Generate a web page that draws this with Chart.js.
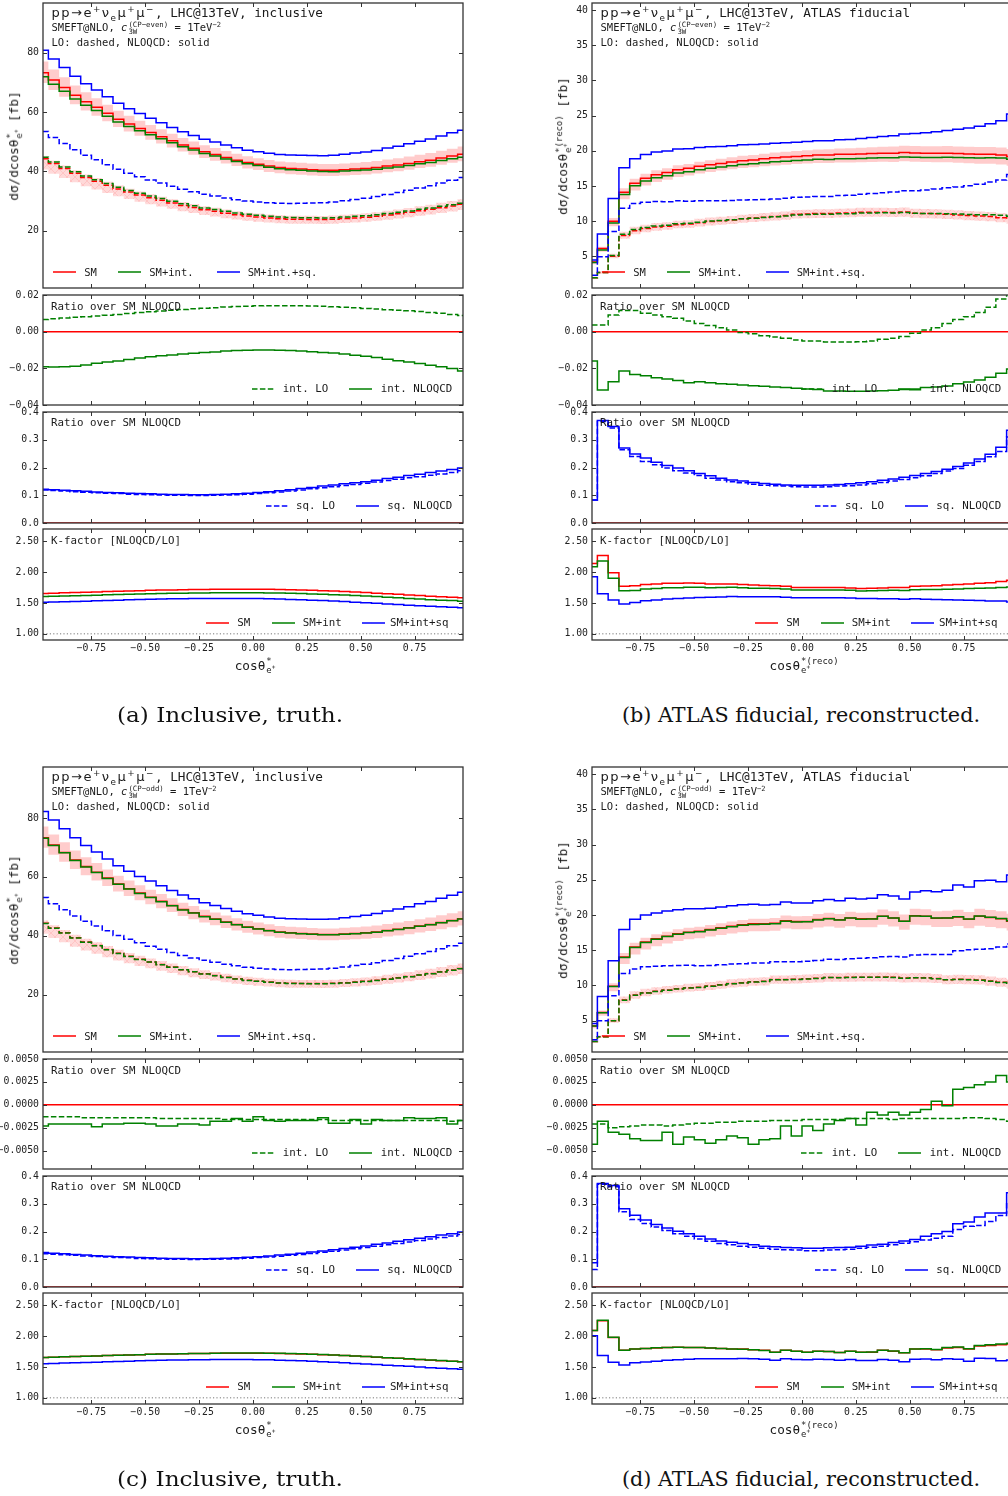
<!DOCTYPE html>
<html>
<head>
<meta charset="utf-8">
<title>cos theta* distributions, SMEFT@NLO</title>
<script src="https://cdn.jsdelivr.net/npm/chart.js@4.4.1/dist/chart.umd.min.js"></script>
<style>
  html, body { margin: 0; padding: 0; background: #fff; overflow: hidden; }
  #page { position: relative; width: 1008px; height: 1496px; overflow: hidden; background: #fff; }
  #page canvas { position: absolute; }
  .t { position: absolute; white-space: nowrap; font-family: "DejaVu Sans Mono", monospace; color: #1a1a1a; line-height: 1; transform: translateY(-50%); }
  .t sup, .t sub { font-size: 68%; line-height: 0; }
  .m { font-family: "DejaVu Sans", sans-serif; font-size: 13px; letter-spacing: 1.5px; }
  .ss { display: inline-flex; flex-direction: column; vertical-align: middle; font-size: 70%; line-height: 1.0; margin-left: 1px; }
  .ytitle { transform: translate(-50%, -50%) rotate(-90deg); }
  .xtitle { transform: translate(-50%, -50%); }
  .cap { position: absolute; white-space: nowrap; font-family: "DejaVu Serif", serif; font-size: 20px; color: #111; line-height: 1; }
  .leg { position: absolute; }
</style>
</head>
<body>
<div id="page"></div>
<script>
// 40 bins of width 0.05 in cos(theta*), plotted at the bin centres
const binCenters = [-0.975, -0.925, -0.875, -0.825, -0.775, -0.725, -0.675, -0.625, -0.575, -0.525,
  -0.475, -0.425, -0.375, -0.325, -0.275, -0.225, -0.175, -0.125, -0.075, -0.025,
  0.025, 0.075, 0.125, 0.175, 0.225, 0.275, 0.325, 0.375, 0.425, 0.475,
  0.525, 0.575, 0.625, 0.675, 0.725, 0.775, 0.825, 0.875, 0.925, 0.975];

// ---- inclusive (truth): SM NLOQCD [fb] and K-factor
const smNloIncl = [73.3, 70.8, 68.3, 65.7, 63.5, 61.6, 59.6, 57.6, 56.0, 54.5,
  53.1, 51.7, 50.3, 48.9, 47.8, 46.6, 45.7, 44.7, 43.8, 43.0,
  42.4, 41.8, 41.3, 41.0, 40.8, 40.6, 40.4, 40.4, 40.6, 40.8,
  41.0, 41.3, 41.8, 42.2, 42.7, 43.3, 43.8, 44.5, 45.2, 45.8];
const kSmIncl = [1.655, 1.660, 1.665, 1.670, 1.675, 1.680, 1.685, 1.690, 1.695, 1.700,
  1.705, 1.709, 1.712, 1.715, 1.718, 1.720, 1.722, 1.724, 1.725, 1.725,
  1.724, 1.722, 1.720, 1.716, 1.712, 1.706, 1.700, 1.693, 1.686, 1.678,
  1.670, 1.660, 1.650, 1.640, 1.630, 1.620, 1.610, 1.602, 1.594, 1.585];
// scale-uncertainty bands, relative
const nloUpIncl = [0.052, 0.051, 0.051, 0.050, 0.050, 0.050, 0.049, 0.049, 0.049, 0.048,
  0.048, 0.048, 0.048, 0.048, 0.048, 0.048, 0.048, 0.049, 0.049, 0.049,
  0.049, 0.050, 0.050, 0.050, 0.051, 0.051, 0.051, 0.052, 0.052, 0.052,
  0.053, 0.053, 0.053, 0.054, 0.054, 0.054, 0.055, 0.055, 0.055, 0.056];
const nloDnIncl = [0.047, 0.047, 0.046, 0.046, 0.046, 0.046, 0.045, 0.045, 0.045, 0.045,
  0.045, 0.045, 0.045, 0.045, 0.045, 0.045, 0.046, 0.046, 0.046, 0.046,
  0.046, 0.047, 0.047, 0.047, 0.047, 0.048, 0.048, 0.048, 0.048, 0.049,
  0.049, 0.049, 0.049, 0.050, 0.050, 0.050, 0.050, 0.051, 0.051, 0.051];
const loUpIncl = [0.020, 0.022, 0.024, 0.026, 0.028, 0.030, 0.032, 0.034, 0.035, 0.037,
  0.038, 0.040, 0.041, 0.042, 0.043, 0.044, 0.045, 0.046, 0.046, 0.047,
  0.048, 0.048, 0.049, 0.050, 0.050, 0.051, 0.052, 0.052, 0.053, 0.054,
  0.054, 0.055, 0.056, 0.056, 0.057, 0.058, 0.058, 0.059, 0.060, 0.060];
const loDnIncl = [0.082, 0.080, 0.079, 0.077, 0.076, 0.075, 0.074, 0.073, 0.072, 0.071,
  0.070, 0.069, 0.068, 0.068, 0.067, 0.066, 0.066, 0.065, 0.065, 0.064,
  0.064, 0.063, 0.063, 0.063, 0.062, 0.062, 0.062, 0.062, 0.062, 0.062,
  0.062, 0.062, 0.063, 0.063, 0.063, 0.064, 0.064, 0.065, 0.065, 0.066];

// ---- ATLAS fiducial (reco): SM NLOQCD [fb] and K-factor, CP-even and CP-odd runs
const smNloFidB = [4.19, 6.10, 10.0, 14.1, 15.4, 16.1, 16.6, 16.9, 17.3, 17.5,
  17.8, 18.0, 18.2, 18.4, 18.6, 18.7, 18.85, 19.0, 19.1, 19.2,
  19.3, 19.4, 19.4, 19.5, 19.5, 19.55, 19.6, 19.65, 19.65, 19.75,
  19.7, 19.65, 19.65, 19.65, 19.6, 19.55, 19.5, 19.5, 19.4, 19.2];
const kSmFidB = [2.14, 2.27, 1.99, 1.77, 1.78, 1.80, 1.81, 1.82, 1.82, 1.825,
  1.82, 1.81, 1.81, 1.81, 1.80, 1.79, 1.785, 1.78, 1.77, 1.75,
  1.75, 1.75, 1.75, 1.75, 1.745, 1.735, 1.74, 1.745, 1.75, 1.75,
  1.77, 1.775, 1.78, 1.79, 1.80, 1.81, 1.82, 1.83, 1.85, 1.87];
const smNloFidD = [4.26, 6.15, 9.9, 14.03, 15.45, 16.16, 16.63, 17.0, 17.34, 17.57,
  17.71, 17.95, 18.19, 18.42, 18.61, 18.75, 18.75, 18.85, 19.18, 19.08,
  19.08, 19.37, 19.51, 19.32, 19.6, 19.46, 19.46, 19.84, 19.6, 19.13,
  19.89, 19.84, 19.56, 19.6, 19.74, 19.41, 19.84, 19.65, 19.46, 19.13];
const kSmFidD = [2.09, 2.25, 1.98, 1.77, 1.79, 1.80, 1.81, 1.815, 1.82, 1.815,
  1.815, 1.81, 1.80, 1.79, 1.79, 1.78, 1.77, 1.74, 1.77, 1.755,
  1.74, 1.755, 1.75, 1.735, 1.755, 1.74, 1.74, 1.77, 1.755, 1.73,
  1.79, 1.79, 1.78, 1.81, 1.815, 1.79, 1.84, 1.85, 1.86, 1.875];
const nloUpFid = [0.045, 0.045, 0.043, 0.041, 0.040, 0.039, 0.038, 0.037, 0.037, 0.036,
  0.036, 0.036, 0.036, 0.037, 0.037, 0.038, 0.038, 0.039, 0.039, 0.040,
  0.041, 0.041, 0.042, 0.043, 0.044, 0.045, 0.046, 0.047, 0.048, 0.049,
  0.050, 0.050, 0.051, 0.052, 0.052, 0.053, 0.054, 0.054, 0.055, 0.055];
const nloDnFid = [0.075, 0.075, 0.074, 0.071, 0.068, 0.065, 0.063, 0.061, 0.059, 0.058,
  0.057, 0.056, 0.056, 0.056, 0.056, 0.056, 0.056, 0.057, 0.057, 0.057,
  0.058, 0.058, 0.059, 0.059, 0.060, 0.061, 0.061, 0.062, 0.063, 0.063,
  0.064, 0.064, 0.065, 0.066, 0.066, 0.067, 0.068, 0.068, 0.069, 0.070];
const loUpFid = [0.070, 0.068, 0.066, 0.064, 0.062, 0.061, 0.060, 0.059, 0.058, 0.058,
  0.057, 0.057, 0.056, 0.056, 0.056, 0.055, 0.055, 0.055, 0.055, 0.055,
  0.055, 0.055, 0.055, 0.055, 0.056, 0.056, 0.056, 0.057, 0.057, 0.057,
  0.058, 0.058, 0.059, 0.059, 0.060, 0.060, 0.061, 0.062, 0.062, 0.063];
const loDnFid = [0.060, 0.060, 0.059, 0.058, 0.058, 0.057, 0.057, 0.056, 0.056, 0.056,
  0.055, 0.055, 0.055, 0.055, 0.055, 0.055, 0.055, 0.055, 0.055, 0.055,
  0.055, 0.056, 0.056, 0.056, 0.056, 0.057, 0.057, 0.057, 0.058, 0.058,
  0.058, 0.059, 0.059, 0.060, 0.060, 0.061, 0.061, 0.062, 0.062, 0.063];

// ---- interference and squared terms, ratio over SM NLOQCD
// (a) inclusive, CP-even
const intLoA = [0.0067, 0.0070, 0.0074, 0.0078, 0.0082, 0.0086, 0.0090, 0.0094, 0.0099, 0.0104,
  0.0109, 0.0113, 0.0117, 0.0121, 0.0125, 0.0128, 0.0131, 0.0134, 0.0137, 0.0139,
  0.0141, 0.0142, 0.0142, 0.0142, 0.0141, 0.0140, 0.0138, 0.0136, 0.0133, 0.0130,
  0.0127, 0.0124, 0.0120, 0.0117, 0.0114, 0.0110, 0.0105, 0.0100, 0.0094, 0.0088];
const intNloA = [-0.0192, -0.0193, -0.0191, -0.0188, -0.0182, -0.0172, -0.0166, -0.0160, -0.0152, -0.0144,
  -0.0137, -0.0132, -0.0127, -0.0122, -0.0118, -0.0114, -0.0111, -0.0106, -0.0103, -0.0101,
  -0.0100, -0.0100, -0.0101, -0.0103, -0.0106, -0.0110, -0.0113, -0.0117, -0.0122, -0.0128,
  -0.0134, -0.0141, -0.0150, -0.0159, -0.0166, -0.0174, -0.0183, -0.0192, -0.0201, -0.0215];
const sqLoA = [0.119, 0.117, 0.115, 0.113, 0.111, 0.109, 0.107, 0.106, 0.104, 0.103,
  0.102, 0.101, 0.100, 0.100, 0.099, 0.099, 0.100, 0.101, 0.102, 0.104,
  0.106, 0.109, 0.112, 0.115, 0.119, 0.123, 0.127, 0.131, 0.135, 0.139,
  0.143, 0.148, 0.153, 0.158, 0.163, 0.167, 0.172, 0.177, 0.182, 0.188];
const sqNloA = [0.122, 0.120, 0.118, 0.116, 0.114, 0.112, 0.110, 0.109, 0.107, 0.106,
  0.105, 0.104, 0.103, 0.103, 0.102, 0.102, 0.103, 0.104, 0.105, 0.107,
  0.110, 0.113, 0.116, 0.120, 0.124, 0.128, 0.133, 0.137, 0.141, 0.145,
  0.149, 0.154, 0.160, 0.165, 0.171, 0.176, 0.182, 0.187, 0.193, 0.198];
// (b) fiducial, CP-even
const intLoB = [0.0036, 0.0036, 0.0091, 0.0115, 0.0115, 0.0100, 0.0091, 0.0082, 0.0073, 0.0058,
  0.0045, 0.0033, 0.0022, 0.0009, -0.0004, -0.0011, -0.0022, -0.0029, -0.0036, -0.0045,
  -0.0051, -0.0051, -0.0056, -0.0056, -0.0056, -0.0055, -0.0051, -0.0042, -0.0036, -0.0027,
  -0.0009, 0.0009, 0.0022, 0.0045, 0.0067, 0.0082, 0.0104, 0.0133, 0.0178, 0.0220];
const intNloB = [-0.0160, -0.0318, -0.0273, -0.0215, -0.0233, -0.0240, -0.0251, -0.0258, -0.0267, -0.0278,
  -0.0273, -0.0278, -0.0284, -0.0287, -0.0291, -0.0295, -0.0298, -0.0302, -0.0305, -0.0309,
  -0.0313, -0.0315, -0.0324, -0.0324, -0.0325, -0.0325, -0.0324, -0.0322, -0.0320, -0.0315,
  -0.0317, -0.0305, -0.0302, -0.0296, -0.0284, -0.0275, -0.0264, -0.0249, -0.0227, -0.0204];
const sqLoB = [0.083, 0.366, 0.342, 0.264, 0.240, 0.222, 0.210, 0.198, 0.188, 0.180,
  0.171, 0.161, 0.155, 0.149, 0.145, 0.140, 0.136, 0.134, 0.133, 0.131,
  0.130, 0.130, 0.131, 0.133, 0.134, 0.137, 0.141, 0.146, 0.151, 0.157,
  0.163, 0.170, 0.178, 0.187, 0.196, 0.208, 0.222, 0.239, 0.258, 0.310];
const sqNloB = [0.083, 0.369, 0.348, 0.270, 0.249, 0.234, 0.219, 0.207, 0.198, 0.188,
  0.178, 0.170, 0.161, 0.155, 0.151, 0.146, 0.142, 0.140, 0.137, 0.136,
  0.136, 0.136, 0.137, 0.139, 0.141, 0.145, 0.149, 0.154, 0.159, 0.165,
  0.171, 0.178, 0.186, 0.194, 0.204, 0.216, 0.231, 0.248, 0.273, 0.334];
// (c) inclusive, CP-odd
const intLoC = [-0.0013, -0.0013, -0.0013, -0.0013, -0.0014, -0.0014, -0.0014, -0.0014, -0.0014, -0.0014,
  -0.0014, -0.0015, -0.0015, -0.0015, -0.0015, -0.0015, -0.0015, -0.0016, -0.0016, -0.0016,
  -0.0016, -0.0016, -0.0016, -0.0016, -0.0016, -0.0016, -0.0016, -0.0017, -0.0017, -0.0017,
  -0.0017, -0.0017, -0.0017, -0.0017, -0.0017, -0.0017, -0.0017, -0.0017, -0.0018, -0.0017];
const intNloC = [-0.0023, -0.0021, -0.0021, -0.0021, -0.0021, -0.0024, -0.0021, -0.0021, -0.0020, -0.0020,
  -0.0021, -0.0023, -0.0023, -0.0021, -0.0021, -0.0022, -0.0018, -0.0018, -0.0015, -0.0018,
  -0.0013, -0.0017, -0.0018, -0.0017, -0.0017, -0.0017, -0.0014, -0.0020, -0.0020, -0.0016,
  -0.0021, -0.0016, -0.0017, -0.0017, -0.0014, -0.0015, -0.0015, -0.0014, -0.0021, -0.0017];
const sqLoC = [0.120, 0.118, 0.116, 0.114, 0.112, 0.110, 0.108, 0.106, 0.105, 0.103,
  0.102, 0.101, 0.100, 0.100, 0.099, 0.100, 0.100, 0.101, 0.102, 0.104,
  0.106, 0.108, 0.111, 0.114, 0.117, 0.121, 0.125, 0.129, 0.133, 0.138,
  0.142, 0.147, 0.152, 0.157, 0.162, 0.168, 0.173, 0.178, 0.184, 0.189];
const sqNloC = [0.124, 0.122, 0.120, 0.117, 0.115, 0.113, 0.111, 0.109, 0.108, 0.106,
  0.105, 0.104, 0.103, 0.103, 0.102, 0.102, 0.103, 0.104, 0.105, 0.107,
  0.109, 0.112, 0.115, 0.118, 0.122, 0.126, 0.130, 0.134, 0.139, 0.143,
  0.148, 0.154, 0.159, 0.165, 0.170, 0.176, 0.181, 0.187, 0.192, 0.198];
// (d) fiducial, CP-odd
const intLoD = [-0.0021, -0.0021, -0.0025, -0.0024, -0.0023, -0.0022, -0.0022, -0.0023, -0.0022, -0.0021,
  -0.0020, -0.0020, -0.0019, -0.0019, -0.0018, -0.0018, -0.0018, -0.0017, -0.0017, -0.0017,
  -0.0016, -0.0016, -0.0016, -0.0016, -0.0015, -0.0015, -0.0015, -0.0015, -0.0016, -0.0015,
  -0.0015, -0.0015, -0.0015, -0.0015, -0.0015, -0.0014, -0.0014, -0.0015, -0.0016, -0.0018];
const intNloD = [-0.0043, -0.0018, -0.0030, -0.0032, -0.0037, -0.0039, -0.0039, -0.0030, -0.0043, -0.0035,
  -0.0038, -0.0042, -0.0038, -0.0034, -0.0036, -0.0043, -0.0038, -0.0037, -0.0023, -0.0034,
  -0.0023, -0.0028, -0.0021, -0.0017, -0.0015, -0.0022, -0.0008, -0.0011, -0.0008, -0.0011,
  -0.0008, -0.0005, 0.0004, -0.0001, 0.0017, 0.0019, 0.0022, 0.0025, 0.0032, 0.0025];
const sqLoD = [0.063, 0.370, 0.361, 0.271, 0.243, 0.229, 0.216, 0.204, 0.192, 0.183,
  0.173, 0.165, 0.157, 0.152, 0.147, 0.143, 0.140, 0.136, 0.134, 0.133,
  0.131, 0.131, 0.133, 0.134, 0.136, 0.140, 0.143, 0.147, 0.152, 0.158,
  0.163, 0.169, 0.176, 0.183, 0.207, 0.219, 0.222, 0.236, 0.258, 0.300];
const sqNloD = [0.087, 0.373, 0.366, 0.282, 0.259, 0.241, 0.225, 0.213, 0.201, 0.192,
  0.183, 0.173, 0.166, 0.161, 0.157, 0.152, 0.147, 0.145, 0.142, 0.141,
  0.140, 0.140, 0.141, 0.142, 0.143, 0.147, 0.151, 0.154, 0.160, 0.166,
  0.171, 0.183, 0.192, 0.200, 0.228, 0.234, 0.252, 0.267, 0.267, 0.340];

const SM_INCL = { nlo: smNloIncl, k: kSmIncl, nloUp: nloUpIncl, nloDn: nloDnIncl, loUp: loUpIncl, loDn: loDnIncl };
const SM_FID_B = { nlo: smNloFidB, k: kSmFidB, nloUp: nloUpFid, nloDn: nloDnFid, loUp: loUpFid, loDn: loDnFid };
const SM_FID_D = { nlo: smNloFidD, k: kSmFidD, nloUp: nloUpFid, nloDn: nloDnFid, loUp: loUpFid, loDn: loDnFid };

const INT_WIDE = { min: -0.04, max: 0.02, step: 0.02, dec: 2 };
const INT_NARROW = { min: -0.007, max: 0.005, step: 0.0025, dec: 4 };

const panels = [
  { ox: 0, oy: 0, sm: SM_INCL, intLo: intLoA, intNlo: intNloA, sqLo: sqLoA, sqNlo: sqNloA,
    main: { min: 0.68, max: 96.8, step: 20, dec: 0 }, int: INT_WIDE, op: 'CP−even', region: 'inclusive', reco: false,
    caption: '(a) Inclusive, truth.', capX: 230, capW: 226 },
  { ox: 549, oy: 0, sm: SM_FID_B, intLo: intLoB, intNlo: intNloB, sqLo: sqLoB, sqNlo: sqNloB,
    main: { min: 0.5, max: 41.0, step: 5, dec: 0 }, int: INT_WIDE, op: 'CP−even', region: 'ATLAS fiducial', reco: true,
    caption: '(b) ATLAS fiducial, reconstructed.', capX: 801, capW: 358 },
  { ox: 0, oy: 764, sm: SM_INCL, intLo: intLoC, intNlo: intNloC, sqLo: sqLoC, sqNlo: sqNloC,
    main: { min: 0.55, max: 97.3, step: 20, dec: 0 }, int: INT_NARROW, op: 'CP−odd', region: 'inclusive', reco: false,
    caption: '(c) Inclusive, truth.', capX: 230, capW: 226 },
  { ox: 549, oy: 764, sm: SM_FID_D, intLo: intLoD, intNlo: intNloD, sqLo: sqLoD, sqNlo: sqNloD,
    main: { min: 0.55, max: 41.03, step: 5, dec: 0 }, int: INT_NARROW, op: 'CP−odd', region: 'ATLAS fiducial', reco: true,
    caption: '(d) ATLAS fiducial, reconstructed.', capX: 801, capW: 358 }
];

const RED = '#ff0000', GREEN = '#008000', BLUE = '#0000ff';
const DASH = [5.5, 2.4];
const YW = 48, PADT = 10, PADR = 10, PADB = 10, PW = 420;
const tickFont = { family: 'DejaVu Sans Mono', size: 9.8 };
const page = document.getElementById('page');
const SVGNS = 'http://www.w3.org/2000/svg';

Chart.defaults.font.family = 'DejaVu Sans Mono';

// matplotlib-like frame with inward ticks on all four sides, plus optional dotted reference line
const frameTicks = {
  id: 'frameTicks',
  afterDatasetsDraw(chart, args, opts) {
    const { ctx, chartArea: a, scales: { x, y } } = chart;
    ctx.save();
    if (opts.refLine !== undefined) {
      const py = y.getPixelForValue(opts.refLine);
      ctx.strokeStyle = '#777';
      ctx.lineWidth = 1;
      ctx.setLineDash([1.2, 2.2]);
      ctx.beginPath(); ctx.moveTo(a.left, py); ctx.lineTo(a.right, py); ctx.stroke();
      ctx.setLineDash([]);
    }
    ctx.strokeStyle = '#333';
    ctx.lineWidth = 1;
    ctx.beginPath();
    x.ticks.forEach(t => {
      const px = Math.round(x.getPixelForValue(t.value)) + 0.5;
      ctx.moveTo(px, a.top); ctx.lineTo(px, a.top + 4);
      ctx.moveTo(px, a.bottom); ctx.lineTo(px, a.bottom - 4);
    });
    y.ticks.forEach(t => {
      const py = Math.round(y.getPixelForValue(t.value)) + 0.5;
      ctx.moveTo(a.left, py); ctx.lineTo(a.left + 4, py);
      ctx.moveTo(a.right, py); ctx.lineTo(a.right - 4, py);
    });
    ctx.stroke();
    ctx.lineWidth = 1.3;
    ctx.strokeRect(a.left, a.top, a.right - a.left, a.bottom - a.top);
    ctx.restore();
  }
};

function fmt(v, dec) {
  if (Math.abs(v) < 1e-12) v = 0;
  return v.toFixed(dec).replace('-', '−');
}

function hatchPattern() {
  const c = document.createElement('canvas');
  c.width = c.height = 8;
  const g = c.getContext('2d');
  g.fillStyle = 'rgba(255,0,0,0.15)';
  g.fillRect(0, 0, 8, 8);
  g.strokeStyle = 'rgba(255,90,90,0.22)';
  g.lineWidth = 0.8;
  g.beginPath(); g.moveTo(0, 0); g.lineTo(8, 8); g.moveTo(8, 0); g.lineTo(0, 8); g.stroke();
  return g.createPattern(c, 'repeat');
}
const HATCH = hatchPattern();

const pts = ys => binCenters.map((x, i) => ({ x, y: ys[i] }));

function line(ys, color, dashed, order) {
  return { data: pts(ys), borderColor: color, borderWidth: 1.5, borderDash: dashed ? DASH : [],
    pointRadius: 0, stepped: 'middle', fill: false, order };
}

function band(hi, lo, bg, order) {
  return [
    { data: pts(hi), borderColor: 'rgba(0,0,0,0)', borderWidth: 1, backgroundColor: bg, pointRadius: 0, stepped: 'middle', fill: '+1', order },
    { data: pts(lo), borderColor: 'rgba(0,0,0,0)', borderWidth: 1, pointRadius: 0, stepped: 'middle', fill: false, order }
  ];
}

function subplot(L, T, H, yc, datasets, showX, refLine) {
  const xh = showX ? 18 : 0;
  const cw = YW + PW + PADR, ch = PADT + H + xh + PADB;
  const cv = document.createElement('canvas');
  cv.width = cw; cv.height = ch;
  cv.style.left = (L - YW) + 'px'; cv.style.top = (T - PADT) + 'px';
  cv.style.width = cw + 'px'; cv.style.height = ch + 'px';
  page.appendChild(cv);
  return new Chart(cv, {
    type: 'line',
    data: { datasets },
    options: {
      responsive: false, animation: false, events: [],
      layout: { padding: { top: PADT, right: PADR, bottom: PADB, left: 0 } },
      plugins: { legend: { display: false }, tooltip: { enabled: false }, frameTicks: { refLine } },
      scales: {
        x: {
          type: 'linear', min: -0.975, max: 0.975,
          grid: { display: false, drawTicks: false }, border: { display: false },
          ticks: { display: showX, stepSize: 0.25, includeBounds: false, autoSkip: false, maxRotation: 0,
            padding: 3, font: tickFont, color: '#222', callback: v => fmt(v, 2) },
          afterFit: s => { s.height = xh; s.paddingLeft = 0; s.paddingRight = 0; }
        },
        y: {
          type: 'linear', min: yc.min, max: yc.max,
          grid: { display: false, drawTicks: false }, border: { display: false },
          ticks: { stepSize: yc.step, includeBounds: false, autoSkip: false,
            padding: 4, font: tickFont, color: '#222', callback: v => fmt(v, yc.dec) },
          afterFit: s => { s.width = YW; s.paddingTop = 0; s.paddingBottom = 0; }
        }
      }
    },
    plugins: [frameTicks]
  });
}

function put(html, x, y, size, cls) {
  const d = document.createElement('div');
  d.className = 't' + (cls ? ' ' + cls : '');
  d.innerHTML = html;
  d.style.left = x + 'px';
  d.style.top = y + 'px';
  d.style.fontSize = size + 'px';
  page.appendChild(d);
  return d;
}

function swatch(x, y, color, dashed) {
  const s = document.createElementNS(SVGNS, 'svg');
  s.setAttribute('width', '23'); s.setAttribute('height', '4');
  s.setAttribute('class', 'leg');
  s.style.left = x + 'px'; s.style.top = (y - 2) + 'px';
  const l = document.createElementNS(SVGNS, 'line');
  l.setAttribute('x1', '0'); l.setAttribute('y1', '2'); l.setAttribute('x2', '23'); l.setAttribute('y2', '2');
  l.setAttribute('stroke', color); l.setAttribute('stroke-width', '1.5');
  if (dashed) l.setAttribute('stroke-dasharray', DASH.join(' '));
  s.appendChild(l);
  page.appendChild(s);
}

function legend(L, y, items, size) {
  items.forEach(([lx, tx, color, dashed, label]) => {
    swatch(L + lx, y, color, dashed);
    put(label, L + tx, y, size);
  });
}

panels.forEach(p => {
  const L = p.ox + 43, oy = p.oy, s = p.sm;

  // absolute cross sections built from SM NLO, K-factor and the ratios
  const smLo = s.nlo.map((v, i) => v / s.k[i]);
  const intNloAbs = s.nlo.map((v, i) => v * (1 + p.intNlo[i]));
  const intLoAbs = smLo.map((v, i) => v + p.intLo[i] * s.nlo[i]);
  const fullNlo = intNloAbs.map((v, i) => v + p.sqNlo[i] * s.nlo[i]);
  const fullLo = intLoAbs.map((v, i) => v + p.sqLo[i] * s.nlo[i]);
  const smRatio = s.nlo.map(v => v / v - 1);
  const kInt = intNloAbs.map((v, i) => v / intLoAbs[i]);
  const kFull = fullNlo.map((v, i) => v / fullLo[i]);
  const nloHi = s.nlo.map((v, i) => v * (1 + s.nloUp[i]));
  const nloLow = s.nlo.map((v, i) => v * (1 - s.nloDn[i]));
  const loHi = smLo.map((v, i) => v * (1 + s.loUp[i]));
  const loLow = smLo.map((v, i) => v * (1 - s.loDn[i]));

  subplot(L, oy + 3, 285, p.main, [
    ...band(nloHi, nloLow, 'rgba(255,0,0,0.2)', 10),
    ...band(loHi, loLow, HATCH, 11),
    line(s.nlo, RED, false, 3), line(intNloAbs, GREEN, false, 2), line(fullNlo, BLUE, false, 1),
    line(smLo, RED, true, 3), line(intLoAbs, GREEN, true, 2), line(fullLo, BLUE, true, 1)
  ], false);

  subplot(L, oy + 295, 110, p.int, [
    line(smRatio, RED, false, 3), line(p.intLo, GREEN, true, 2), line(p.intNlo, GREEN, false, 1)
  ], false);

  subplot(L, oy + 412, 111, { min: 0, max: 0.4, step: 0.1, dec: 1 }, [
    line(smRatio, RED, false, 3), line(p.sqLo, BLUE, true, 2), line(p.sqNlo, BLUE, false, 1)
  ], false);

  subplot(L, oy + 529, 111, { min: 0.9, max: 2.7, step: 0.5, dec: 2 }, [
    line(s.k, RED, false, 3), line(kInt, GREEN, false, 2), line(kFull, BLUE, false, 1)
  ], true, 1);

  // texts inside the main panel
  put('<span class="m">pp→e<sup>+</sup>ν<sub>e</sub>μ<sup>+</sup>μ<sup>−</sup></span>, LHC@13TeV, ' + p.region, L + 8.5, oy + 12.7, 12.7);
  put('SMEFT@NLO, <i>c</i><span class="ss"><span>(' + p.op + ')</span><span>3W</span></span>&thinsp;=&thinsp;1TeV<sup>−2</sup>', L + 8.5, oy + 27.7, 10.5);
  put('LO: dashed, NLOQCD: solid', L + 8.5, oy + 42, 10.5);
  legend(L, oy + 271.7, [
    [10, 41.3, RED, false, 'SM'], [75, 106.3, GREEN, false, 'SM+int.'], [174, 204.7, BLUE, false, 'SM+int.+sq.']
  ], 10.5);

  put('Ratio over SM NLOQCD', L + 8, oy + 306.7, 10.8);
  legend(L, oy + 389, [[209, 239.7, GREEN, true, 'int. LO'], [306, 337.7, GREEN, false, 'int. NLOQCD']], 10.8);
  put('Ratio over SM NLOQCD', L + 8, oy + 423.3, 10.8);
  legend(L, oy + 506, [[222.7, 253, BLUE, true, 'sq. LO'], [313, 344.3, BLUE, false, 'sq. NLOQCD']], 10.8);
  put('K-factor [NLOQCD/LO]', L + 8, oy + 541, 10.8);
  legend(L, oy + 623.3, [
    [163, 194.3, RED, false, 'SM'], [228.7, 259.7, GREEN, false, 'SM+int'], [318.7, 347, BLUE, false, 'SM+int+sq']
  ], 10.8);

  // axis titles
  const sup = p.reco ? '*(reco)' : '*';
  put('dσ/dcosθ<span class="ss"><span>' + sup + '</span><span>e<sup>+</sup></span></span> [fb]', p.ox + 15, oy + 145.5, 12.7, 'ytitle');
  put('cosθ<span class="ss"><span>' + sup + '</span><span>e<sup>+</sup></span></span>', L + 212, oy + 666, 12.7, 'xtitle');

  // sub-figure caption
  const cap = document.createElement('div');
  cap.className = 'cap';
  cap.textContent = p.caption;
  page.appendChild(cap);
  const r = cap.getBoundingClientRect();
  cap.style.left = (p.capX - p.capW / 2) + 'px';
  cap.style.top = (oy + 715 - r.height / 2) + 'px';
  cap.style.transformOrigin = '0 0';
  cap.style.transform = 'scaleX(' + (p.capW / r.width).toFixed(4) + ')';
});
</script>
</body>
</html>
